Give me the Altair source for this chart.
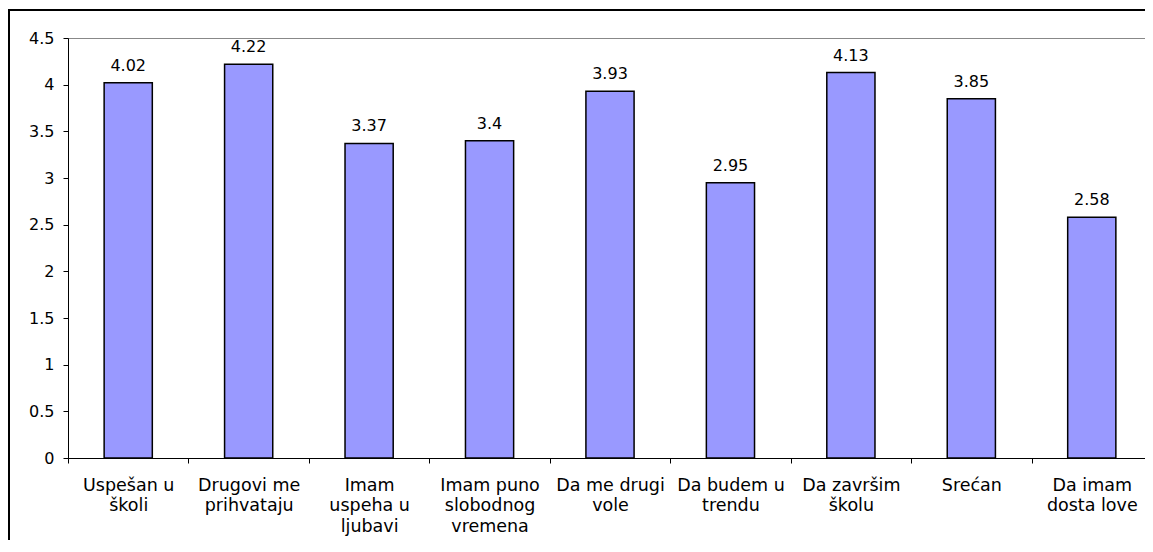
import altair as alt
import pandas as pd

categories = [
    "Uspešan u|školi",
    "Drugovi me|prihvataju",
    "Imam|uspeha u|ljubavi",
    "Imam puno|slobodnog|vremena",
    "Da me drugi|vole",
    "Da budem u|trendu",
    "Da završim|školu",
    "Srećan",
    "Da imam|dosta love",
]
values = [4.02, 4.22, 3.37, 3.4, 3.93, 2.95, 4.13, 3.85, 2.58]
y_ticks = [0, 0.5, 1, 1.5, 2, 2.5, 3, 3.5, 4, 4.5]

df = pd.DataFrame({"cat": categories, "val": values})

W, H = 1084, 420
step = W / len(categories)
FONT = "DejaVu Sans"

x_enc = alt.X(
    "cat:N",
    sort=None,
    title=None,
    scale=alt.Scale(paddingInner=0.6, paddingOuter=0.3),
    axis=alt.Axis(
        labelExpr="split(datum.label, '|')",
        labelAngle=0,
        labelAlign="center",
        labelBaseline="top",
        labelFont=FONT,
        labelFontSize=17.5,
        labelLineHeight=20.5,
        labelColor="black",
        labelPadding=13,
        labelOffset=step / 2,
        tickOffset=-step / 2,
        tickSize=5,
        tickColor="black",
        domainColor="black",
        labelOverlap=False,
        labelLimit=300,
    ),
)
y_enc = alt.Y(
    "val:Q",
    title=None,
    scale=alt.Scale(domain=[0, 4.5], nice=False, zero=True),
    axis=alt.Axis(
        values=y_ticks,
        format=".1~f",
        grid=False,
        labelFont=FONT,
        labelFontSize=16,
        labelColor="black",
        labelPadding=9,
        tickSize=5,
        tickColor="black",
        domainColor="black",
    ),
)

bars = alt.Chart(df).mark_bar(
    color="#9999FF", stroke="black", strokeWidth=1.5
).encode(x=x_enc, y=y_enc)

text = alt.Chart(df).mark_text(
    font=FONT, fontSize=16, color="black", dy=-12, baseline="alphabetic"
).encode(x=alt.X("cat:N", sort=None), y="val:Q", text=alt.Text("val:Q", format=".2~f"))

frame_src = alt.Data(values=[{"a": 1}])
frame_left = alt.Chart(frame_src).mark_rule(color="black", strokeWidth=2).encode(
    x=alt.value(-59), y=alt.value(-28), y2=alt.value(520)
)
frame_top = alt.Chart(frame_src).mark_rule(color="black", strokeWidth=2).encode(
    y=alt.value(-28), x=alt.value(-60), x2=alt.value(1100)
)

chart = alt.layer(bars, text, frame_left, frame_top).properties(
    width=W,
    height=H,
    padding={"left": 60, "top": 30, "right": -7, "bottom": 82},
    autosize=alt.AutoSizeParams(type="none"),
).configure_view(stroke="#888888", strokeWidth=1)

chart.save("out.html", embed_options={"renderer": "svg", "actions": False})
